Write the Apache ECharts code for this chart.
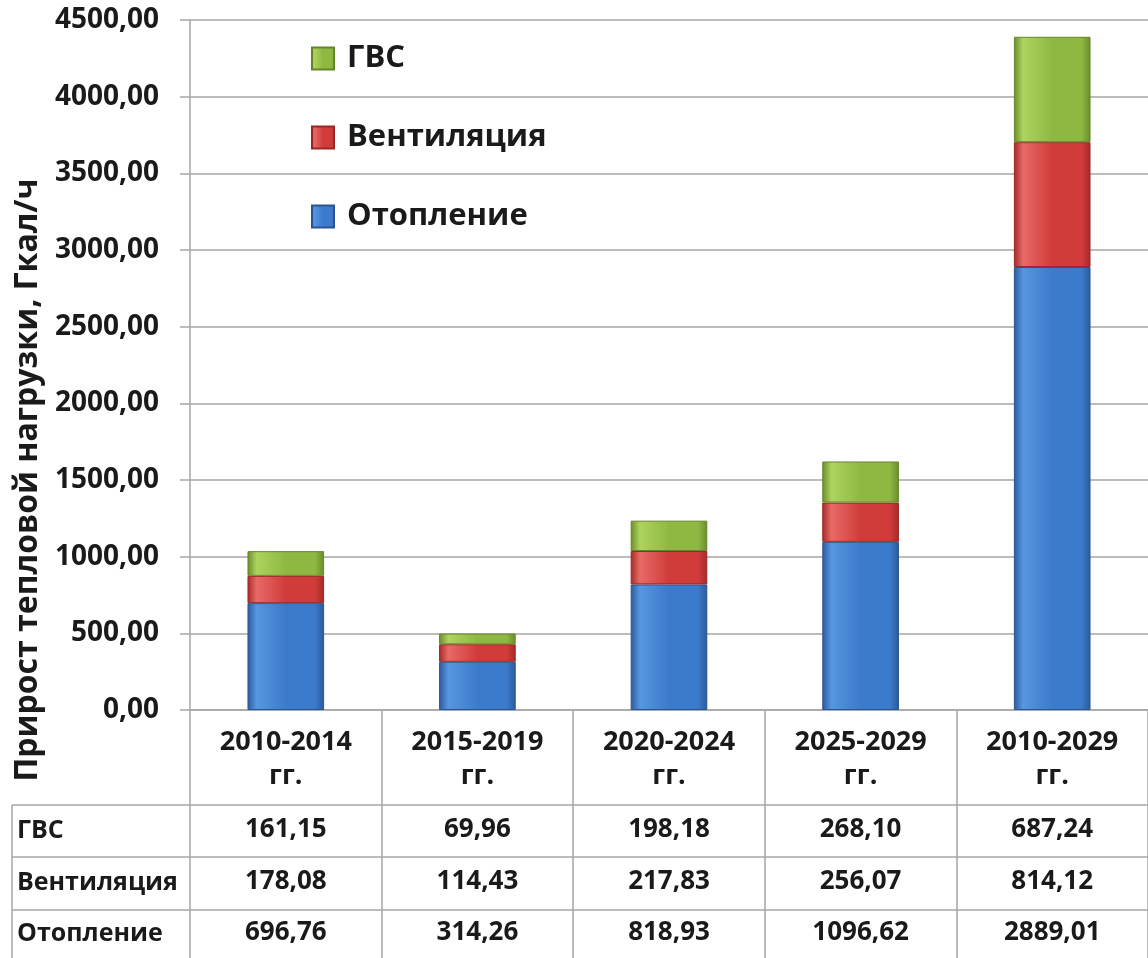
<!DOCTYPE html>
<html>
<head>
<meta charset="utf-8">
<script src="https://cdn.jsdelivr.net/npm/echarts@6/dist/echarts.min.js"></script>
<style>
  html, body { margin: 0; padding: 0; background: #fff; }
  #chart { width: 1148px; height: 958px; }
</style>
</head>
<body>
<div id="chart"></div>
<script>
// периоды
var categories = ['2010-2014', '2015-2019', '2020-2024', '2025-2029', '2010-2029'];
// значения по видам нагрузки, Гкал/ч
var gvs = [161.15, 69.96, 198.18, 268.10, 687.24];
var vent = [178.08, 114.43, 217.83, 256.07, 814.12];
var otop = [696.76, 314.26, 818.93, 1096.62, 2889.01];
var seriesNames = ['ГВС', 'Вентиляция', 'Отопление'];

var FONT = '"Open Sans", "DejaVu Sans", sans-serif';

function fmt(v) {
  return v.toFixed(2).replace('.', ',');
}

// градиент "фаска" как в Excel
function bevel(dark, mid, light) {
  return new echarts.graphic.LinearGradient(0, 0, 1, 0, [
    { offset: 0, color: dark },
    { offset: 0.12, color: light },
    { offset: 0.5, color: mid },
    { offset: 0.88, color: mid },
    { offset: 1, color: dark }
  ]);
}

var chart = echarts.init(document.getElementById('chart'));

var gridLeft = 190, gridTop = 20, gridHeight = 690;
var lineColor = '#a6a6a6';

// строки таблицы под осью
function tableAxis(values, offset, tickLen, margin) {
  return {
    type: 'category',
    position: 'bottom',
    data: categories,
    offset: offset,
    axisLine: { show: true, lineStyle: { color: lineColor, width: 1.5 } },
    axisTick: { show: true, length: tickLen, lineStyle: { color: lineColor, width: 1.5 } },
    axisLabel: {
      interval: 0,
      margin: margin,
      fontFamily: FONT,
      fontWeight: 'bold',
      fontSize: 26,
      color: '#1a1a1a',
      formatter: function (v, i) { return fmt(values[i]); }
    }
  };
}

var option = {
  animation: false,
  grid: { left: gridLeft, top: gridTop, width: 972, height: gridHeight },
  legend: {
    orient: 'vertical',
    left: 306,
    top: 38,
    itemWidth: 22,
    itemHeight: 22,
    itemGap: 48,
    icon: 'rect',
    data: seriesNames,
    textStyle: { fontFamily: FONT, fontSize: 31, fontWeight: 'bold', color: '#1a1a1a', padding: [0, 0, 0, 8] }
  },
  xAxis: [
    {
      type: 'category',
      data: categories,
      axisLine: { show: true, lineStyle: { color: lineColor, width: 1.5 } },
      axisTick: { show: true, length: 95, lineStyle: { color: lineColor, width: 1.5 } },
      axisLabel: {
        interval: 0,
        margin: 15,
        fontFamily: FONT,
        fontWeight: 'bold',
        fontSize: 27,
        lineHeight: 34,
        color: '#1a1a1a',
        formatter: function (v) { return v + '\nгг.'; }
      }
    },
    tableAxis(gvs, 95, 52, 12),
    tableAxis(vent, 147, 53, 12),
    tableAxis(otop, 200, 50, 10)
  ],
  yAxis: {
    type: 'value',
    min: 0,
    max: 4500,
    interval: 500,
    axisLine: { show: true, lineStyle: { color: lineColor, width: 1.5 } },
    axisTick: { show: true, length: 10, lineStyle: { color: lineColor, width: 1.5 } },
    splitLine: { lineStyle: { color: lineColor, width: 1.5 } },
    axisLabel: {
      margin: 31,
      fontFamily: FONT,
      fontWeight: 'bold',
      fontSize: 28,
      color: '#1a1a1a',
      formatter: function (v) { return fmt(v); }
    }
  },
  series: [
    {
      name: 'Отопление',
      type: 'bar',
      stack: 'total',
      barWidth: '40%',
      data: otop,
      itemStyle: { color: bevel('#2b5a9c', '#3c7acb', '#5796e0'), borderColor: '#2a5590', borderWidth: 1 }
    },
    {
      name: 'Вентиляция',
      type: 'bar',
      stack: 'total',
      data: vent,
      itemStyle: { color: bevel('#a52a2a', '#d03c3a', '#e86a66'), borderColor: '#9a2626', borderWidth: 1 }
    },
    {
      name: 'ГВС',
      type: 'bar',
      stack: 'total',
      data: gvs,
      itemStyle: { color: bevel('#6a8c2a', '#8fb842', '#aed35e'), borderColor: '#66852a', borderWidth: 1 }
    }
  ],
  graphic: [
    {
      type: 'text',
      x: 28,
      y: 480,
      rotation: Math.PI / 2,
      style: {
        text: 'Прирост тепловой нагрузки, Гкал/ч',
        fontFamily: FONT,
        fontWeight: 'bold',
        fontSize: 32,
        fill: '#1a1a1a',
        textAlign: 'center',
        textVerticalAlign: 'middle'
      }
    },
    // левая часть таблицы: рамка и подписи строк
    { type: 'line', shape: { x1: 12, y1: 805, x2: 190, y2: 805 }, style: { stroke: lineColor, lineWidth: 1.5 } },
    { type: 'line', shape: { x1: 12, y1: 857, x2: 190, y2: 857 }, style: { stroke: lineColor, lineWidth: 1.5 } },
    { type: 'line', shape: { x1: 12, y1: 910, x2: 190, y2: 910 }, style: { stroke: lineColor, lineWidth: 1.5 } },
    { type: 'line', shape: { x1: 12, y1: 805, x2: 12, y2: 958 }, style: { stroke: lineColor, lineWidth: 1.5 } },
    { type: 'text', x: 17, y: 831, style: { text: seriesNames[0], fontFamily: FONT, fontWeight: 'bold', fontSize: 25, fill: '#1a1a1a', textVerticalAlign: 'middle' } },
    { type: 'text', x: 17, y: 883, style: { text: seriesNames[1], fontFamily: FONT, fontWeight: 'bold', fontSize: 25, fill: '#1a1a1a', textVerticalAlign: 'middle' } },
    { type: 'text', x: 17, y: 934, style: { text: seriesNames[2], fontFamily: FONT, fontWeight: 'bold', fontSize: 25, fill: '#1a1a1a', textVerticalAlign: 'middle' } }
  ]
};

chart.setOption(option);
</script>
</body>
</html>
